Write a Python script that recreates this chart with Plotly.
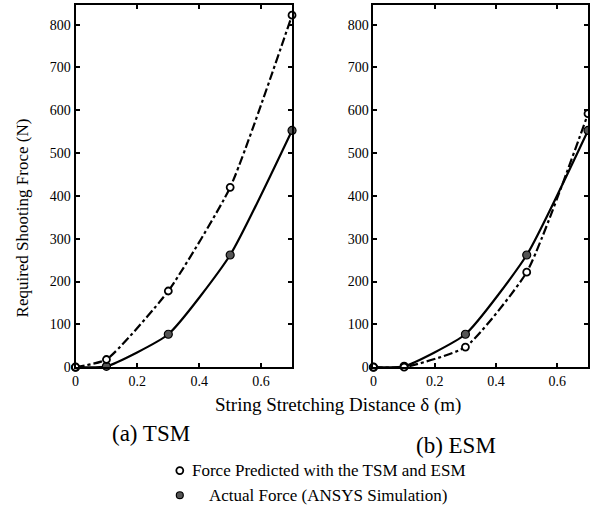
import plotly.graph_objects as go

# ---- data ----
stretch = [0.0, 0.1, 0.3, 0.5, 0.7]
tsm_pred = [0, 18, 178, 420, 822]
esm_pred = [0, 0, 47, 222, 592]
actual = [0, 2, 77, 262, 553]

x_ticks = [0, 0.2, 0.4, 0.6]
x_tick_text = ["0", "0.2", "0.4", "0.6"]
y_ticks = [0, 100, 200, 300, 400, 500, 600, 700, 800]

W, H = 590, 516
FONT = "Liberation Serif, Times New Roman, serif"


def px(x):
    return x / W


def py(y):
    return 1 - y / H


fig = go.Figure()

panels = [("x", "y", tsm_pred), ("x2", "y2", esm_pred)]
for xa, ya, pred in panels:
    fig.add_trace(go.Scatter(
        x=stretch, y=actual, xaxis=xa, yaxis=ya, mode="lines+markers",
        line=dict(color="black", width=2.2, shape="spline", smoothing=0.5),
        marker=dict(symbol="circle", size=8, color="#555555",
                    line=dict(color="black", width=1.2)),
        showlegend=False, cliponaxis=False))
    fig.add_trace(go.Scatter(
        x=stretch, y=pred, xaxis=xa, yaxis=ya, mode="lines+markers",
        line=dict(color="black", width=2.2, dash="dashdot", shape="spline", smoothing=0.5),
        marker=dict(symbol="circle", size=7, color="white",
                    line=dict(color="black", width=1.8)),
        showlegend=False, cliponaxis=False))

axis_common = dict(
    showline=True, linecolor="black", linewidth=2, mirror="ticks",
    ticks="inside", ticklen=4, tickwidth=1.5, tickcolor="black",
    showgrid=False, zeroline=False,
    tickfont=dict(family=FONT, size=14, color="black"),
)

y0, y1 = py(373), py(5)
fig.update_layout(
    width=W, height=H,
    margin=dict(l=0, r=0, t=0, b=0),
    paper_bgcolor="white", plot_bgcolor="white",
    xaxis=dict(domain=[px(72), px(290)], range=[0, 0.7],
               tickvals=x_ticks, ticktext=x_tick_text, anchor="y", **axis_common),
    yaxis=dict(domain=[y0, y1], range=[0, 846], tickvals=y_ticks,
               anchor="x", **axis_common),
    xaxis2=dict(domain=[px(372), px(588)], range=[0, 0.7],
                tickvals=x_ticks, ticktext=x_tick_text, anchor="y2", **axis_common),
    yaxis2=dict(domain=[y0, y1], range=[0, 846], tickvals=y_ticks,
                anchor="x2", **axis_common),
    showlegend=False,
)

ann = [
    dict(text="Required Shooting Froce (N)", x=px(19), y=py(221), textangle=-90,
         font=dict(family=FONT, size=17)),
    dict(text="String Stretching Distance δ (m)", x=px(336), y=py(411),
         font=dict(family=FONT, size=19)),
    dict(text="(a) TSM", x=px(148), y=py(440), font=dict(family=FONT, size=23)),
    dict(text="(b) ESM", x=px(455), y=py(453), font=dict(family=FONT, size=23)),
    dict(text="Force Predicted with the TSM and ESM", x=px(187), y=py(478),
         xanchor="left", font=dict(family=FONT, size=17)),
    dict(text="Actual Force (ANSYS Simulation)", x=px(204), y=py(503),
         xanchor="left", font=dict(family=FONT, size=17)),
]
for a in ann:
    a.setdefault("xanchor", "center")
    fig.add_annotation(xref="paper", yref="paper", showarrow=False,
                       yanchor="middle", font_color="black", **a)

# legend glyphs
r = 3.5
fig.add_shape(type="circle", xref="paper", yref="paper",
              x0=px(177 - r), x1=px(177 + r), y0=py(478 + r), y1=py(478 - r),
              line=dict(color="black", width=1.8), fillcolor="white")
fig.add_shape(type="circle", xref="paper", yref="paper",
              x0=px(177 - r), x1=px(177 + r), y0=py(503 + r), y1=py(503 - r),
              line=dict(color="black", width=1.2), fillcolor="#555555")

fig.write_html("out.html", config={"displayModeBar": False},
               post_script="document.body.style.margin='0';document.body.style.overflow='hidden';")
